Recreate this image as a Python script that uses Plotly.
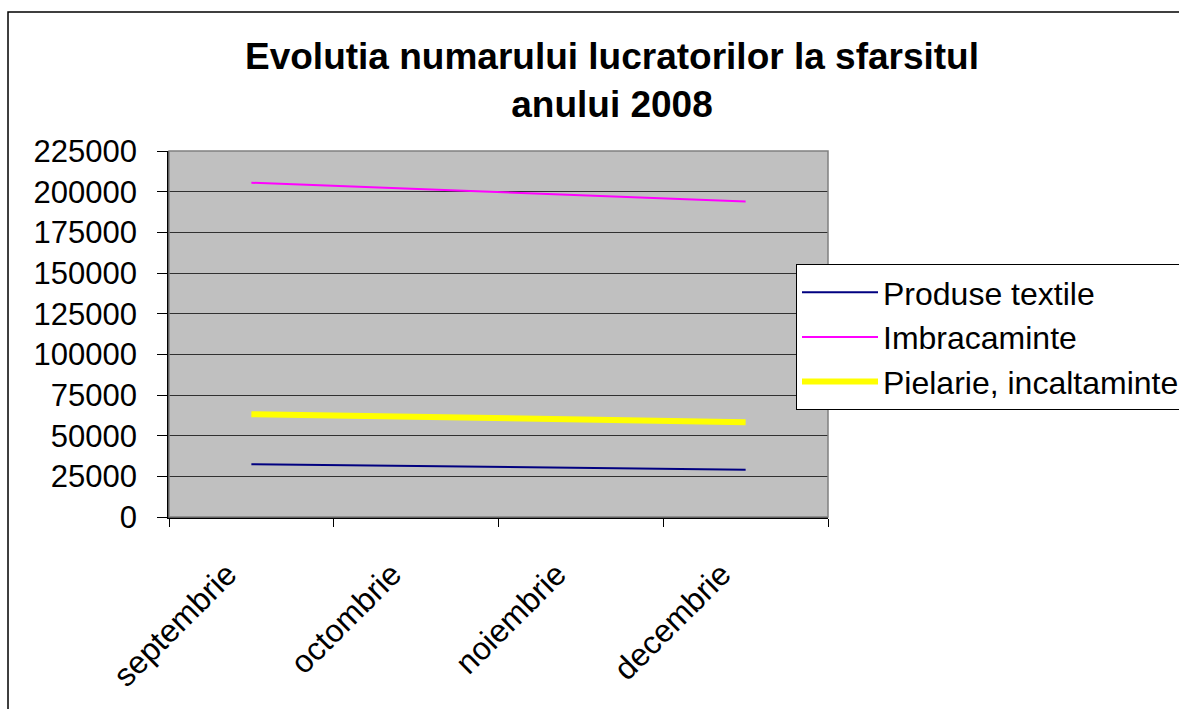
import plotly.graph_objects as go

months = ["septembrie", "octombrie", "noiembrie", "decembrie"]
produse_textile = [32400, 31200, 30200, 29100]
imbracaminte = [205500, 201600, 197500, 194000]
pielarie = [63200, 61700, 60100, 58300]
y_ticks = [0, 25000, 50000, 75000, 100000, 125000, 150000, 175000, 200000, 225000]

FONT = "Liberation Sans, Arial, sans-serif"

fig = go.Figure()
fig.add_trace(go.Scatter(x=months, y=produse_textile, mode="lines", name="Produse textile",
                         line=dict(color="#000080", width=2), legendgroup="a"))
fig.add_trace(go.Scatter(x=months, y=imbracaminte, mode="lines", name="Imbracaminte",
                         line=dict(color="#FF00FF", width=2), legendgroup="b"))
fig.add_trace(go.Scatter(x=months, y=pielarie, mode="lines", name="Pielarie, incaltaminte",
                         line=dict(color="#FFFF00", width=6), legendgroup="c"))

# outer chart border
fig.add_shape(type="rect", xref="paper", yref="paper", x0=-0.2443, x1=1.6, y0=-0.6, y1=1.3798,
              line=dict(color="black", width=1.5), fillcolor="rgba(0,0,0,0)", layer="below")
# plot area border
fig.add_shape(type="rect", xref="paper", yref="paper", x0=0, x1=1, y0=0, y1=1,
              line=dict(color="#808080", width=1.5), fillcolor="rgba(0,0,0,0)", layer="above")

fig.update_layout(
    width=1179, height=709,
    margin=dict(l=169, r=351, t=151, b=192, autoexpand=False),
    paper_bgcolor="white",
    plot_bgcolor="#C0C0C0",
    font=dict(family=FONT, size=30, color="black"),
    title=dict(text="<b>Evolutia numarului lucratorilor la sfarsitul<br>anului 2008</b>",
               x=612/1179, xref="container", xanchor="center",
               y=1 - 69/709, yref="container", yanchor="top",
               font=dict(family=FONT, size=37, color="black")),
    showlegend=True,
    legend=dict(x=(796-169)/659, xref="paper", xanchor="left",
                y=(517-264)/366, yref="paper", yanchor="top",
                bgcolor="white", bordercolor="black", borderwidth=1,
                font=dict(family=FONT, size=32, color="black"),
                tracegroupgap=12, itemwidth=76, traceorder="normal"),
    xaxis=dict(type="category", range=[-0.5, 3.5], tickangle=-45, tickson="boundaries",
               ticks="outside", ticklen=8, tickcolor="black",
               ticklabelstandoff=24, ticklabelshift=-24,
               showline=True, linecolor="black", linewidth=1.5,
               showgrid=False, zeroline=False, automargin=False,
               tickfont=dict(family=FONT, size=32, color="black")),
    yaxis=dict(range=[0, 225000], tickvals=y_ticks, ticktext=[str(v) for v in y_ticks],
               ticks="outside", ticklen=10, tickcolor="black",
               ticklabelstandoff=14, automargin=False,
               showline=True, linecolor="black", linewidth=1.5,
               showgrid=True, gridcolor="#303030", gridwidth=1,
               zeroline=False,
               tickfont=dict(family=FONT, size=31, color="black")),
)

fig.write_html("out.html", config={"displayModeBar": False},
               post_script="document.body.style.margin='0';")
